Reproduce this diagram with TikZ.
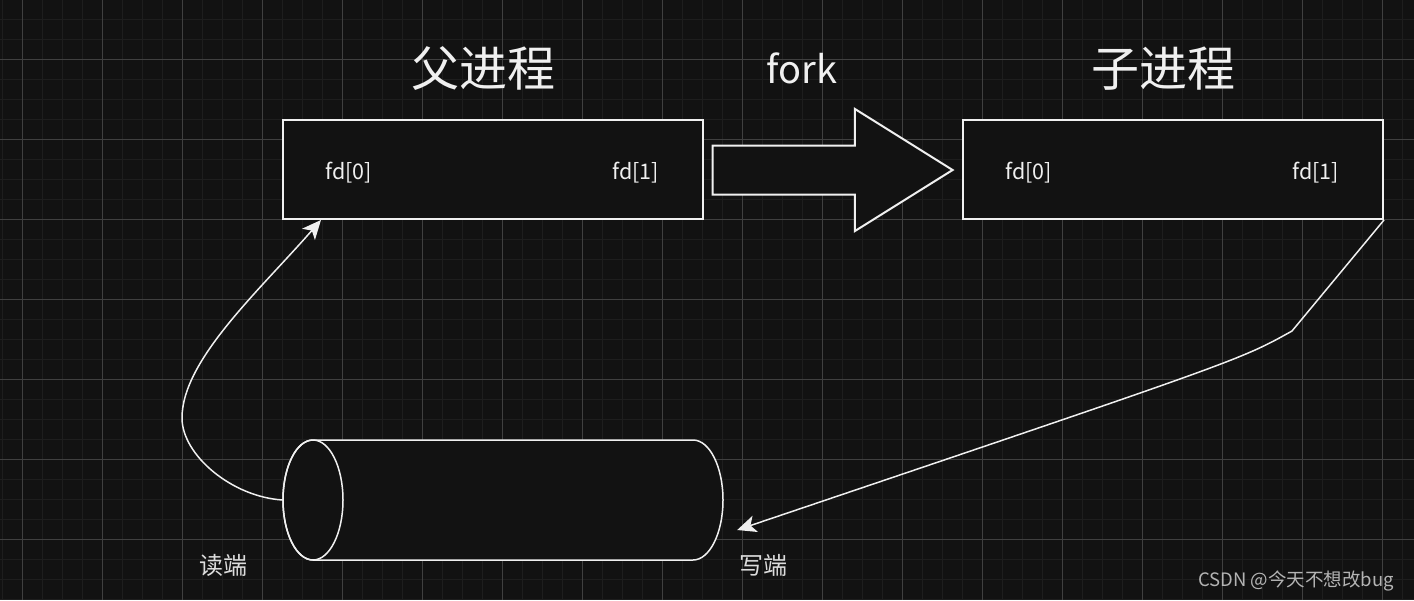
\documentclass[tikz,border=0pt]{standalone}
\usepackage{fontspec}
\setmainfont{Noto Sans CJK SC}
\usetikzlibrary{shapes.arrows,arrows.meta}

\definecolor{canvas}{HTML}{121212}
\definecolor{gridminor}{HTML}{1E1E1E}
\definecolor{gridmajor}{HTML}{404040}
\definecolor{ink}{HTML}{F0F0F0}
\definecolor{wmark}{HTML}{B4B4B4}

\tikzset{
  procbox/.style={draw=ink,line width=2pt,fill=canvas,
    minimum width=420pt,minimum height=99pt,inner sep=0pt},
  bigtext/.style={text=ink,anchor=base,font=\fontsize{48}{48}\selectfont},
  forktext/.style={text=ink,anchor=base,font=\fontsize{38}{38}\selectfont},
  fdtext/.style={text=ink,anchor=base,font=\fontsize{21.5}{21.5}\selectfont},
  endtext/.style={text=ink!92!black,anchor=base,font=\fontsize{24}{24}\selectfont},
  flow/.style={draw=ink,line width=1.5pt,
    -{Stealth[length=19pt,width=17pt,inset=5pt]}},
}

\begin{document}
\begin{tikzpicture}[x=1pt,y=-1pt,every node/.style={inner sep=0pt}]

% Canvas and grid
\fill[canvas] (0,0) rectangle (1414,600);
\useasboundingbox (0,0) rectangle (1414,600);
\foreach \gx in {2,22,...,1402}
  \draw[gridminor,line width=1pt] (\gx,0) -- (\gx,600);
\foreach \gy in {19,39,...,599}
  \draw[gridminor,line width=1pt] (0,\gy) -- (1414,\gy);
\foreach \gx in {22,102,...,1382}
  \draw[gridmajor,line width=1pt] (\gx,0) -- (\gx,600);
\foreach \gy in {59,139,...,539}
  \draw[gridmajor,line width=1pt] (0,\gy) -- (1414,\gy);

% Processes
\node[procbox] (parent) at (493,169.5) {};
\node[procbox] (child) at (1173,169.5) {};

% Titles
\node[bigtext] (parent title) at (483,86) {父进程};
\node[forktext] (fork title) at (802,83) {fork};
\node[bigtext] (child title) at (1163,86) {子进程};

% File descriptors
\node[fdtext] (parent fd0) at (348.5,179) {fd[0]};
\node[fdtext] (parent fd1) at (635.5,179) {fd[1]};
\node[fdtext] (child fd0) at (1028.5,179) {fd[0]};
\node[fdtext] (child fd1) at (1315.5,179) {fd[1]};

% Fork arrow
\node[single arrow,draw=ink,line width=2pt,fill=canvas,
  inner xsep=0pt,inner ysep=23.5pt,
  minimum height=240pt,minimum width=120pt,
  single arrow head extend=36.5pt,single arrow tip angle=64,
  single arrow head indent=0pt] (fork arrow) at (813,170) {};

% Pipe (cylinder lying on its side)
\node[minimum width=440pt,minimum height=120pt] (pipe) at (503,500) {};
\begin{scope}[shift={(pipe.center)}]
  \filldraw[draw=ink,fill=canvas,line width=1.5pt]
    (-190,-60) -- (190,-60)
    arc[start angle=90,end angle=-90,x radius=30pt,y radius=60pt]
    -- (-190,60)
    arc[start angle=270,end angle=90,x radius=30pt,y radius=60pt]
    -- cycle;
  \draw[ink,line width=1.5pt] (-190,0) ellipse[x radius=30pt,y radius=60pt];
\end{scope}

% Pipe ends
\node[endtext] (read end) at (223,574) {读端};
\node[endtext] (write end) at (763,574) {写端};

% Flows
\coordinate (bend) at (1292,331);
\draw[flow] (pipe.west) .. controls (232,497) and (182,455) .. (182,418)
  .. controls (182,360) and (260,290) .. ([xshift=39pt]parent.south west);
\draw[flow] (child.south east) -- (bend)
  .. controls (1240,360) .. ([xshift=14pt,yshift=-30pt]pipe.east);

% Watermark
\node[text=wmark,anchor=base,font=\fontsize{18.5}{18.5}\selectfont]
  (watermark) at (1296,586) {CSDN @今天不想改bug};

\end{tikzpicture}
\end{document}
